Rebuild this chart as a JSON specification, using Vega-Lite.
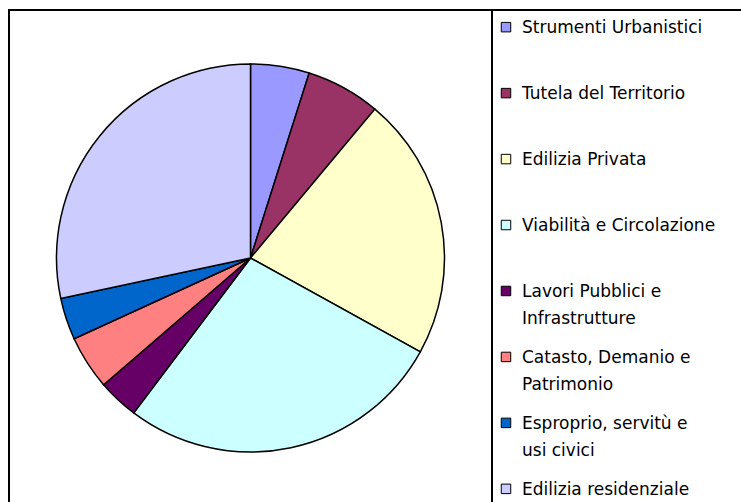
{
  "$schema": "https://vega.github.io/schema/vega-lite/v6.json",
  "padding": {"left": 8, "top": 9, "right": 0, "bottom": 0},
  "autosize": {"type": "pad"},
  "background": "white",
  "spacing": 0,
  "bounds": "flush",
  "config": {"view": {"stroke": "black", "strokeWidth": 2}},
  "data": {
    "values": [
      {"ordine": 1, "categoria": "Strumenti Urbanistici", "etichetta": "Strumenti Urbanistici", "valore": 4.9},
      {"ordine": 2, "categoria": "Tutela del Territorio", "etichetta": "Tutela del Territorio", "valore": 6.2},
      {"ordine": 3, "categoria": "Edilizia Privata", "etichetta": "Edilizia Privata", "valore": 22.0},
      {"ordine": 4, "categoria": "Viabilità e Circolazione", "etichetta": "Viabilità e Circolazione", "valore": 27.3},
      {"ordine": 5, "categoria": "Lavori Pubblici e Infrastrutture", "etichetta": "Lavori Pubblici e\nInfrastrutture", "valore": 3.4},
      {"ordine": 6, "categoria": "Catasto, Demanio e Patrimonio", "etichetta": "Catasto, Demanio e\nPatrimonio", "valore": 4.5},
      {"ordine": 7, "categoria": "Esproprio, servitù e usi civici", "etichetta": "Esproprio, servitù e\nusi civici", "valore": 3.5},
      {"ordine": 8, "categoria": "Edilizia residenziale", "etichetta": "Edilizia residenziale", "valore": 28.4}
    ]
  },
  "hconcat": [
    {
      "width": 483,
      "height": 496,
      "view": {"stroke": "black", "strokeWidth": 2},
      "mark": {"type": "arc", "outerRadius": 194, "stroke": "black", "strokeWidth": 1.5},
      "encoding": {
        "theta": {"field": "valore", "type": "quantitative", "stack": true},
        "order": {"field": "ordine", "type": "quantitative"},
        "color": {
          "field": "categoria",
          "type": "nominal",
          "scale": {
            "domain": ["Strumenti Urbanistici", "Tutela del Territorio", "Edilizia Privata", "Viabilità e Circolazione", "Lavori Pubblici e Infrastrutture", "Catasto, Demanio e Patrimonio", "Esproprio, servitù e usi civici", "Edilizia residenziale"],
            "range": ["#9999FF", "#993366", "#FFFFCC", "#CCFFFF", "#660066", "#FF8080", "#0066CC", "#CCCCFF"]
          },
          "legend": null
        }
      }
    },
    {
      "width": 252,
      "height": 496,
      "view": {"stroke": "black", "strokeWidth": 2},
      "encoding": {
        "y": {"field": "categoria", "type": "nominal", "sort": {"field": "ordine", "op": "min"}, "scale": {"padding": 0.26}, "axis": null}
      },
      "layer": [
        {
          "mark": {"type": "point", "shape": "square", "filled": true, "size": 90, "stroke": "black", "strokeWidth": 1, "opacity": 1},
          "encoding": {
            "x": {"value": 14},
            "color": {"field": "categoria", "type": "nominal", "legend": null}
          }
        },
        {
          "mark": {"type": "text", "align": "left", "baseline": "alphabetic", "dy": 6, "lineBreak": "\n", "lineHeight": 27, "font": "DejaVu Sans", "fontSize": 17, "color": "black"},
          "encoding": {
            "x": {"value": 30},
            "text": {"field": "etichetta", "type": "nominal"}
          }
        }
      ]
    }
  ]
}
